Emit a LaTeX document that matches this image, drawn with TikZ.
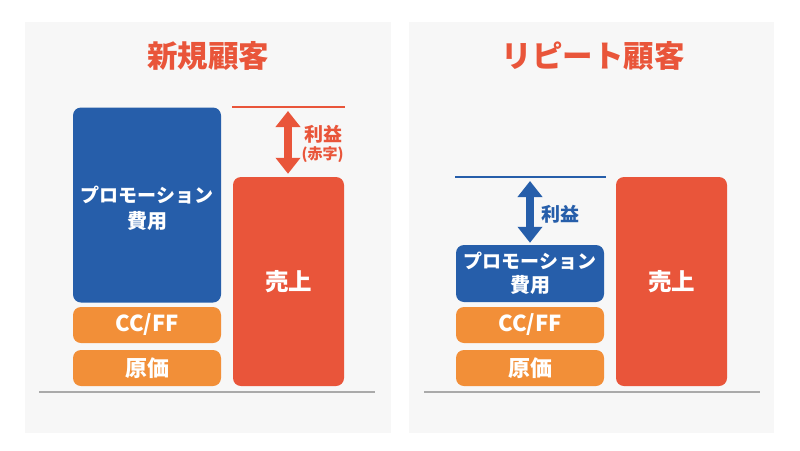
\documentclass[tikz,border=0pt]{standalone}
\usepackage{fontspec}
\setmainfont{Noto Sans CJK JP}
\usetikzlibrary{arrows.meta}
\definecolor{pbg}{HTML}{F7F7F7}
\definecolor{cblue}{HTML}{265EAA}
\definecolor{corange}{HTML}{F28F38}
\definecolor{cred}{HTML}{E9553A}
\definecolor{cgray}{HTML}{AAAAAA}
\tikzset{
  panel/.style={fill=pbg, draw=none, inner sep=0pt},
  bar/.style={rounded corners=8pt, draw=none, inner sep=0pt, text=white, font=\bfseries, align=center},
  bluebar/.style={bar, fill=cblue},
  orangebar/.style={bar, fill=corange, font=\bfseries\fontsize{22}{24}\selectfont},
  redbar/.style={bar, fill=cred, font=\bfseries\fontsize{23.5}{26}\selectfont},
  title/.style={text=cred, font=\bfseries\fontsize{30.5}{33}\selectfont},
  ground/.style={draw=cgray, line width=1.6pt},
  arr/.style={line width=8pt, {Triangle[width=24pt,length=16pt]}-{Triangle[width=24pt,length=16pt]}},
  lbl/.style={font=\bfseries\fontsize{19}{22}\selectfont, inner sep=0pt},
  promotext/.style={text=white, align=center, inner sep=0pt}
}
\newcommand{\kana}[1]{{\fontsize{19}{20}\selectfont #1}}
\newcommand{\kanj}[1]{{\fontsize{20}{20}\selectfont #1}}
\begin{document}
\begin{tikzpicture}[x=1pt,y=-1pt]
\useasboundingbox (0,0) rectangle (800,450);
\fill[white] (0,0) rectangle (800,450);
% panels
\node[panel, minimum width=366pt, minimum height=411pt] (p1) at (208,227.5) {};
\node[panel, minimum width=365pt, minimum height=411pt] (p2) at (591.5,227.5) {};
% titles
\node[title] (t1) at (208,56) {新規顧客};
\node[title] (t2) at (593,56) {リピート顧客};
% left panel
\node[bluebar, minimum width=148pt, minimum height=195pt] (promo1) at (147,205) {};
\node[promotext, font=\bfseries\fontsize{19}{26}\selectfont] (promo1t) at (147,208) {\kana{プロモーション}\\\kanj{費用}};
\node[orangebar, minimum width=148pt, minimum height=36pt] (cc1) at (147,325) {CC/FF};
\node[orangebar, minimum width=148pt, minimum height=36pt] (gen1) at (147,368) {原価};
\node[redbar, minimum width=111pt, minimum height=209pt] (sales1) at (288.5,281.5) {売上};
\coordinate (l1a) at (232,107);
\coordinate (l1b) at (345,107);
\coordinate (l1m) at (288,107);
\draw[draw=cred, line width=1.6pt] (l1a) -- (l1b);
\draw[arr, cred, shorten <=4pt, shorten >=3pt] (l1m) -- (sales1.north -| l1m);
\node[lbl, text=cred] (pr1) at (323.5,134) {利益};
\node[lbl, text=cred, font=\bfseries\fontsize{15}{18}\selectfont] (red1) at (322.5,155) {(赤字)};
\draw[ground] (39,392) coordinate (g1a) -- (375,392) coordinate (g1b);
% right panel
\node[bluebar, minimum width=148pt, minimum height=57pt] (promo2) at (530,273.5) {};
\node[promotext, font=\bfseries\fontsize{19}{24}\selectfont] (promo2t) at (530,273.5) {\kana{プロモーション}\\\kanj{費用}};
\node[orangebar, minimum width=148pt, minimum height=36pt] (cc2) at (530,325) {CC/FF};
\node[orangebar, minimum width=148pt, minimum height=36pt] (gen2) at (530,368) {原価};
\node[redbar, minimum width=111pt, minimum height=209pt] (sales2) at (671.5,281.5) {売上};
\coordinate (l2a) at (455,177);
\coordinate (l2b) at (606,177);
\coordinate (l2m) at (530,177);
\draw[draw=cblue, line width=1.6pt] (l2a) -- (l2b);
\draw[arr, cblue, shorten <=4pt, shorten >=2pt] (l2m) -- (promo2.north);
\node[lbl, text=cblue] (pr2) at (560,214) {利益};
\draw[ground] (424,392) coordinate (g2a) -- (760,392) coordinate (g2b);
\end{tikzpicture}
\end{document}
